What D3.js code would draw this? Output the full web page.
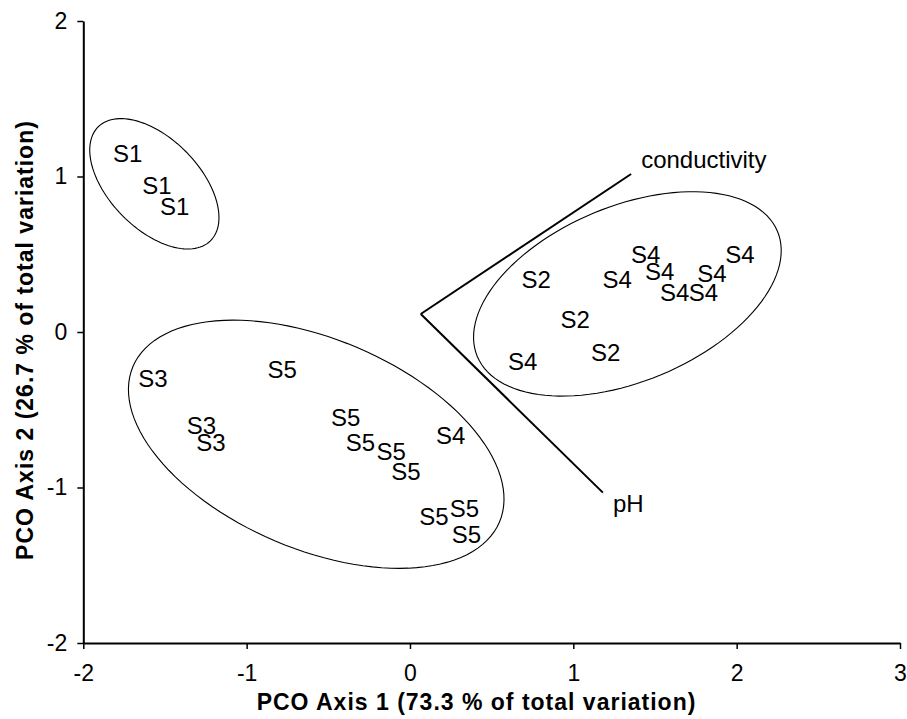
<!DOCTYPE html>
<html>
<head>
<meta charset="utf-8">
<script src="https://cdn.jsdelivr.net/npm/d3@7"></script>
<style>
  html, body { margin: 0; padding: 0; background: #fff; }
  svg { display: block; }
  text { font-family: "Liberation Sans", Arial, sans-serif; fill: #000; }
</style>
</head>
<body>
<svg id="chart" width="907" height="719"></svg>
<script>
// ---- data ----
const pointLabels = ["S1","S1","S1","S2","S2","S2","S3","S3","S3",
  "S4","S4","S4","S4","S4","S4","S4","S4","S4",
  "S5","S5","S5","S5","S5","S5","S5","S5"];
const pointX = [-1.729,-1.549,-1.441, 0.773,1.011,1.198, -1.573,-1.277,-1.219,
  1.269,1.443,1.528,2.020,1.848,1.620,1.797,0.690,0.249,
  -0.783,-0.393,-0.303,-0.115,-0.025,0.146,0.334,0.345];
const pointY = [1.148,0.942,0.810, 0.340,0.080,-0.132, -0.296,-0.598,-0.709,
  0.341,0.500,0.387,0.500,0.376,0.252,0.252,-0.188,-0.666,
  -0.239,-0.550,-0.711,-0.770,-0.893,-1.188,-1.133,-1.304];

const vectorNames = ["conductivity","pH"];
const vectorOrigin = [0.066, 0.116];
const vectorEndX = [1.354, 1.181];
const vectorEndY = [1.016, -1.033];

// group ellipses: centre and two conjugate semi-axis vectors (data units)
const ellipseCX = [-1.565, -0.574, 1.331];
const ellipseCY = [0.953, -0.722, 0.245];
const ellipseMajor = [[0.343,-0.367],[1.122,-0.500],[0.919,0.402]];
const ellipseMinor = [[-0.197,-0.203],[-0.251,-0.622],[0.206,-0.520]];

const xTicks = [-2,-1,0,1,2,3];
const yTicks = [-2,-1,0,1,2];
const xTitle = "PCO Axis 1 (73.3 % of total variation)";
const yTitle = "PCO Axis 2 (26.7 % of total variation)";

// ---- layout ----
const svg = d3.select("#chart");
const x = d3.scaleLinear().domain([-2,3]).range([83.3, 900]);
const y = d3.scaleLinear().domain([-2,2]).range([643, 21]);

// axes (hyphen-minus tick labels as in the reference)
const fmt = d => String(d);
const xAxis = d3.axisBottom(x).tickValues(xTicks).tickFormat(fmt)
  .tickSizeInner(6).tickSizeOuter(0).tickPadding(10);
const yAxis = d3.axisLeft(y).tickValues(yTicks).tickFormat(fmt)
  .tickSizeInner(6).tickSizeOuter(0).tickPadding(10);

const gx = svg.append("g").attr("transform", `translate(0,${y(-2)})`).call(xAxis);
const gy = svg.append("g").attr("transform", `translate(${x(-2)},0)`).call(yAxis);
[gx, gy].forEach(g => {
  g.selectAll("path.domain").attr("stroke", "#000").attr("stroke-width", 2);
  g.selectAll(".tick line").attr("stroke", "#000").attr("stroke-width", 1.5);
  g.selectAll(".tick text").attr("font-size", 23)
    .attr("font-family", '"Liberation Sans", Arial, sans-serif').attr("fill", "#000");
});
gx.selectAll(".tick text").attr("dy", "0.95em");

// titles
svg.append("text").attr("x", 476.5).attr("y", 710).attr("text-anchor", "middle")
  .attr("font-size", 23).attr("font-weight", "bold").attr("letter-spacing", 1)
  .text(xTitle);
svg.append("text").attr("transform", "translate(33,340) rotate(-90)")
  .attr("text-anchor", "middle")
  .attr("font-size", 23).attr("font-weight", "bold").attr("letter-spacing", 1)
  .text(yTitle);

// ellipses
const tSteps = d3.range(0, 360, 3).map(d => d * Math.PI / 180);
const line = d3.line().x(d => x(d[0])).y(d => y(d[1])).curve(d3.curveLinearClosed);
ellipseCX.forEach((cx, i) => {
  const cy = ellipseCY[i], u = ellipseMajor[i], v = ellipseMinor[i];
  const pts = tSteps.map(t => [
    cx + Math.cos(t) * u[0] + Math.sin(t) * v[0],
    cy + Math.cos(t) * u[1] + Math.sin(t) * v[1]
  ]);
  svg.append("path").attr("d", line(pts)).attr("fill", "none")
    .attr("stroke", "#000").attr("stroke-width", 1.1);
});

// vectors
vectorNames.forEach((name, i) => {
  svg.append("line")
    .attr("x1", x(vectorOrigin[0])).attr("y1", y(vectorOrigin[1]))
    .attr("x2", x(vectorEndX[i])).attr("y2", y(vectorEndY[i]))
    .attr("stroke", "#000").attr("stroke-width", 2);
});
svg.append("text").attr("x", x(vectorEndX[0]) + 10).attr("y", y(vectorEndY[0]) - 6)
  .attr("font-size", 24).text(vectorNames[0]);
svg.append("text").attr("x", x(vectorEndX[1]) + 10).attr("y", y(vectorEndY[1]) + 19)
  .attr("font-size", 24).text(vectorNames[1]);

// point labels
svg.append("g").selectAll("text").data(pointLabels).join("text")
  .attr("x", (d, i) => x(pointX[i]))
  .attr("y", (d, i) => y(pointY[i]))
  .attr("dy", "0.36em")
  .attr("text-anchor", "middle")
  .attr("font-size", 24)
  .text(d => d);
</script>
</body>
</html>
